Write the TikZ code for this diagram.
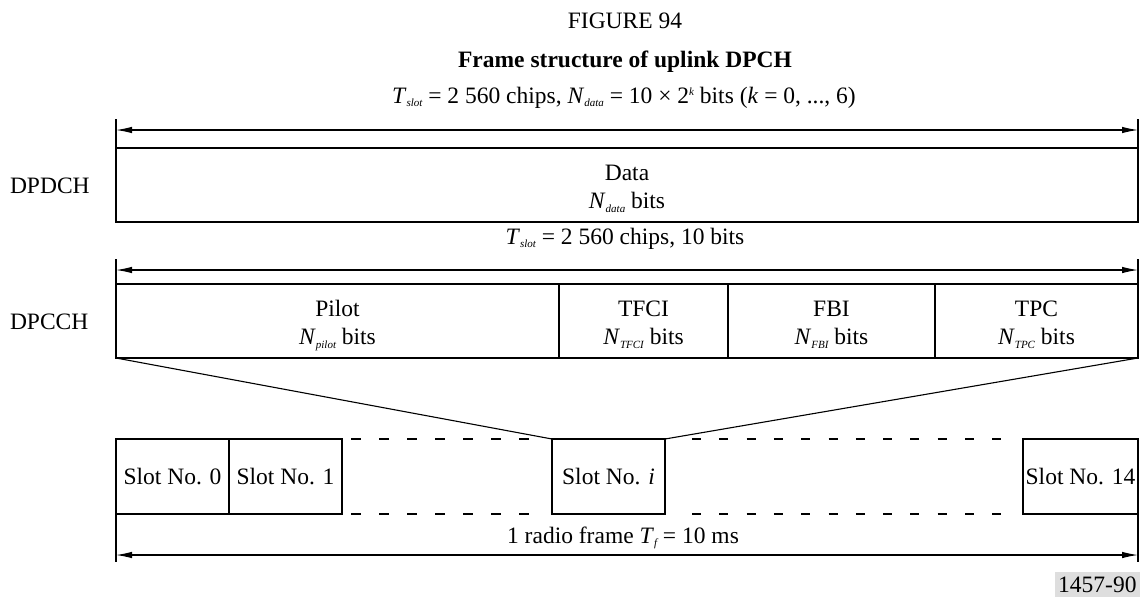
\documentclass[tikz,border=0pt]{standalone}
\usepackage{fontspec}
\setmainfont{Liberation Serif}
\usetikzlibrary{arrows.meta}
\newcommand{\sbs}[1]{\raisebox{-3.5pt}{\fontsize{11}{11}\selectfont\itshape #1}}
\newcommand{\sps}[1]{\raisebox{8pt}{\fontsize{11}{11}\selectfont\itshape #1}}
\begin{document}
\begin{tikzpicture}[x=1pt,y=-1pt,
  every node/.style={font=\fontsize{23.5}{28.5}\selectfont, inner sep=0pt, outer sep=0pt},
  box/.style={draw, line width=2.4pt, anchor=north west},
  lbl/.style={anchor=base},
  thinline/.style={line width=1.1pt},
  dim/.style={line width=1.1pt, {Latex[length=16pt,width=6.5pt]}-{Latex[length=16pt,width=6.5pt]}},
  dashline/.style={line width=2.4pt}]
\useasboundingbox (0,0) rectangle (1140,597);
% headings
\node[lbl] (fig) at (625,28) {FIGURE 94};
\node[lbl, font=\fontsize{23.5}{28.5}\selectfont\bfseries] (title) at (625,67) {Frame structure of uplink DPCH};
\node[lbl] (sub1) at (624,103) {\textit{T}\sbs{slot} = 2 560 chips, \textit{N}\sbs{data} = 10 × 2\sps{k} bits (\textit{k} = 0, ..., 6)};
% DPDCH
\node[box, minimum width=1022pt, minimum height=74pt] (data) at (116,148) {};
\node[anchor=base west] (ldpdch) at (10,193) {DPDCH};
\node[lbl] (dt1) at (627,180) {Data};
\node[lbl] (dt2) at (627,208.5) {\textit{N}\sbs{data} bits};
% top dimension
\coordinate (tl1) at (116,119);
\coordinate (tr1) at (1138,119);
\coordinate (al1) at (116,130);
\coordinate (ar1) at (1138,130);
\draw[thinline] (tl1) -- (data.north west);
\draw[thinline] (tr1) -- (data.north east);
\draw[dim] (al1) -- (ar1);
% middle label and dimension
\node[lbl] (sub2) at (625,244) {\textit{T}\sbs{slot} = 2 560 chips, 10 bits};
% DPCCH
\node[box, minimum width=443pt, minimum height=74pt] (pilot) at (116,284) {};
\node[box, minimum width=169pt, minimum height=74pt] (tfci) at (559,284) {};
\node[box, minimum width=207pt, minimum height=74pt] (fbi) at (728,284) {};
\node[box, minimum width=203pt, minimum height=74pt] (tpc) at (935,284) {};
\node[anchor=base west] (ldpcch) at (10,329.5) {DPCCH};
\node[lbl] (p1) at (337.5,316) {Pilot};
\node[lbl] (p2) at (337.5,344.5) {\textit{N}\sbs{pilot} bits};
\node[lbl] (c1) at (643.5,316) {TFCI};
\node[lbl] (c2) at (643.5,344.5) {\textit{N}\sbs{TFCI} bits};
\node[lbl] (f1) at (831.5,316) {FBI};
\node[lbl] (f2) at (831.5,344.5) {\textit{N}\sbs{FBI} bits};
\node[lbl] (g1) at (1036.5,316) {TPC};
\node[lbl] (g2) at (1036.5,344.5) {\textit{N}\sbs{TPC} bits};
\coordinate (tl2) at (116,259);
\coordinate (tr2) at (1138,259);
\coordinate (al2) at (116,270);
\coordinate (ar2) at (1138,270);
\draw[thinline] (tl2) -- (pilot.north west);
\draw[thinline] (tr2) -- (tpc.north east);
\draw[dim] (al2) -- (ar2);
% slots
\node[box, minimum width=113pt, minimum height=75pt] (s0) at (116,439) {};
\node[box, minimum width=113pt, minimum height=75pt] (s1) at (229,439) {};
\node[box, minimum width=113pt, minimum height=75pt] (si) at (552,439) {};
\node[box, minimum width=115pt, minimum height=75pt] (s14) at (1023,439) {};
\node (t0) at (s0.center) {Slot No. 0};
\node (t1) at (s1.center) {Slot No. 1};
\node (ti) at (si.center) {Slot No. \textit{i}};
\node (t14) at (s14.center) {Slot No. 14};
% zoom lines
\draw[thinline] (pilot.south west) -- (si.north west);
\draw[thinline] (tpc.south east) -- (si.north east);
% dashed continuations
\draw[dashline, dash pattern=on 10pt off 18pt] ([xshift=9pt]s1.north east) -- ([xshift=-23pt]si.north west);
\draw[dashline, dash pattern=on 10pt off 18pt] ([xshift=9pt]s1.south east) -- ([xshift=-23pt]si.south west);
\draw[dashline, dash pattern=on 9pt off 18.3pt] ([xshift=27pt]si.north east) -- ([xshift=-22pt]s14.north west);
\draw[dashline, dash pattern=on 9pt off 18.3pt] ([xshift=27pt]si.south east) -- ([xshift=-22pt]s14.south west);
% bottom dimension
\node[lbl] (frame) at (623,543) {1 radio frame \textit{T}\sbs{f} = 10 ms};
\coordinate (bl) at (116,562);
\coordinate (br) at (1138,562);
\coordinate (al3) at (116,555);
\coordinate (ar3) at (1138,555);
\draw[thinline] (s0.south west) -- (bl);
\draw[thinline] (s14.south east) -- (br);
\draw[dim] (al3) -- (ar3);
% figure number
\node[fill=black!13, anchor=south east, inner xsep=3.5pt, inner ysep=4.5pt] (num) at (1140,597) {1457-90};
\end{tikzpicture}
\end{document}
